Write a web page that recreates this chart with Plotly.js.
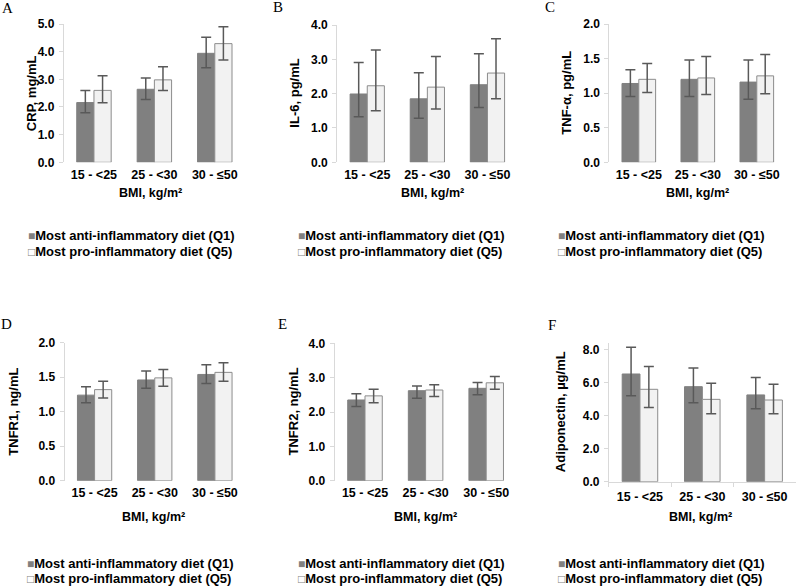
<!DOCTYPE html>
<html>
<head>
<meta charset="utf-8">
<script src="https://cdn.plot.ly/plotly-3.0.1.min.js"></script>
<style>
  html, body { margin: 0; padding: 0; background: #fff; }
  #chart { width: 797px; height: 587px; }
</style>
</head>
<body>
<div id="chart"></div>
<script>
// BMI groups
const bmiGroups = ["15 - <25", "25 - <30", "30 - ≤50"];

// CRP, mg/mL
const crpQ1 = [2.16, 2.64, 3.94];
const crpQ1Lo = [1.79, 2.27, 3.42];
const crpQ1Hi = [2.60, 3.05, 4.52];
const crpQ5 = [2.60, 2.98, 4.29];
const crpQ5Lo = [2.15, 2.60, 3.70];
const crpQ5Hi = [3.13, 3.45, 4.90];

// IL-6, pg/mL
const il6Q1 = [1.99, 1.85, 2.26];
const il6Q1Lo = [1.33, 1.28, 1.60];
const il6Q1Hi = [2.91, 2.61, 3.16];
const il6Q5 = [2.23, 2.19, 2.60];
const il6Q5Lo = [1.50, 1.55, 1.85];
const il6Q5Hi = [3.27, 3.08, 3.60];

// TNF-a, pg/mL
const tnfQ1 = [1.14, 1.20, 1.16];
const tnfQ1Lo = [0.95, 0.95, 0.91];
const tnfQ1Hi = [1.34, 1.48, 1.48];
const tnfQ5 = [1.20, 1.22, 1.25];
const tnfQ5Lo = [1.01, 0.98, 0.99];
const tnfQ5Hi = [1.43, 1.53, 1.56];

// TNFR1, ng/mL
const r1Q1 = [1.24, 1.46, 1.54];
const r1Q1Lo = [1.13, 1.34, 1.41];
const r1Q1Hi = [1.36, 1.59, 1.68];
const r1Q5 = [1.32, 1.49, 1.57];
const r1Q5Lo = [1.20, 1.37, 1.44];
const r1Q5Hi = [1.44, 1.61, 1.71];

// TNFR2, ng/mL
const r2Q1 = [2.35, 2.62, 2.69];
const r2Q1Lo = [2.16, 2.40, 2.50];
const r2Q1Hi = [2.53, 2.76, 2.86];
const r2Q5 = [2.47, 2.64, 2.85];
const r2Q5Lo = [2.27, 2.45, 2.66];
const r2Q5Hi = [2.66, 2.79, 3.03];

// Adiponectin, ug/mL
const adipoQ1 = [6.54, 5.77, 5.27];
const adipoQ1Lo = [5.22, 4.80, 4.43];
const adipoQ1Hi = [8.16, 6.91, 6.32];
const adipoQ5 = [5.61, 5.00, 4.96];
const adipoQ5Lo = [4.50, 4.13, 4.13];
const adipoQ5Hi = [6.99, 5.98, 5.92];

const q1Name = "Most anti-inflammatory diet (Q1)";
const q5Name = "Most pro-inflammatory diet (Q5)";

const W = 797, H = 587;
const px = v => v / W;
const py = v => 1 - v / H;

// panel boxes in pixels: x0, x1, yTop, yBottom
const panels = [
  {letter:"A", ytitle:"CRP, mg/mL", q1:[crpQ1,crpQ1Lo,crpQ1Hi], q5:[crpQ5,crpQ5Lo,crpQ5Hi],
   range:[0,5], dtick:1, box:[63.75,245,24,162.3], lx:8, ly:8, ytx:31, xtx:150, xty:192.7, legx:26, legy:[235,251.7]},
  {letter:"B", ytitle:"IL-6, pg/mL", q1:[il6Q1,il6Q1Lo,il6Q1Hi], q5:[il6Q5,il6Q5Lo,il6Q5Hi],
   range:[0,4], dtick:1, box:[337.2,517.5,25,162.3], lx:277.5, ly:7, ytx:295, xtx:432, xty:193, legx:296, legy:[235,251.7]},
  {letter:"C", ytitle:"TNF-α, pg/mL", q1:[tnfQ1,tnfQ1Lo,tnfQ1Hi], q5:[tnfQ5,tnfQ5Lo,tnfQ5Hi],
   range:[0,2], dtick:0.5, box:[609.3,786.3,24,162.3], lx:549.5, ly:7, ytx:566.5, xtx:697.5, xty:193, legx:556, legy:[235,251.7]},
  {letter:"D", ytitle:"TNFR1, ng/mL", q1:[r1Q1,r1Q1Lo,r1Q1Hi], q5:[r1Q5,r1Q5Lo,r1Q5Hi],
   range:[0,2], dtick:0.5, box:[64.5,245,342.7,480.7], lx:6, ly:324, ytx:14, xtx:153, xty:516.5, legx:25, legy:[563.3,578.3]},
  {letter:"E", ytitle:"TNFR2, ng/mL", q1:[r2Q1,r2Q1Lo,r2Q1Hi], q5:[r2Q5,r2Q5Lo,r2Q5Hi],
   range:[0,4], dtick:1, box:[334.7,516.5,343.3,480.7], lx:282, ly:324, ytx:292.5, xtx:425, xty:516.5, legx:296, legy:[563.3,578.3]},
  {letter:"F", ytitle:"Adiponectin, µg/mL", q1:[adipoQ1,adipoQ1Lo,adipoQ1Hi], q5:[adipoQ5,adipoQ5Lo,adipoQ5Hi],
   range:[0,8.44], dtick:2, box:[608.8,795.8,342.7,481.7], lx:552, ly:325, ytx:560, xtx:700, xty:517, legx:556, legy:[563.3,578.3], xline:true}
];

const sans = "Liberation Sans, Arial, sans-serif";
const errStyle = {type:"data", symmetric:false, color:"#595959", thickness:1.5, width:5};

let traces = [];
let layout = {
  width: W, height: H,
  margin: {l:0, r:0, t:0, b:0},
  paper_bgcolor: "#fff", plot_bgcolor: "rgba(0,0,0,0)",
  barmode: "group", bargap: 0.43, bargroupgap: 0,
  showlegend: false,
  font: {family:sans, color:"#000"},
  annotations: []
};

panels.forEach((p, i) => {
  const n = i === 0 ? "" : String(i + 1);
  const [m1, lo1, hi1] = p.q1;
  const [m5, lo5, hi5] = p.q5;
  traces.push({
    type:"bar", name:q1Name, x:bmiGroups, y:m1, xaxis:"x"+n, yaxis:"y"+n,
    marker:{color:"#808080", line:{color:"#808080", width:1}},
    error_y: Object.assign({}, errStyle, {array: hi1.map((v,k)=>v-m1[k]), arrayminus: m1.map((v,k)=>v-lo1[k])})
  });
  traces.push({
    type:"bar", name:q5Name, x:bmiGroups, y:m5, xaxis:"x"+n, yaxis:"y"+n,
    marker:{color:"#f2f2f2", line:{color:"#8c8c8c", width:1}},
    error_y: Object.assign({}, errStyle, {array: hi5.map((v,k)=>v-m5[k]), arrayminus: m5.map((v,k)=>v-lo5[k])})
  });

  const [x0, x1, yt, yb] = p.box;
  layout["xaxis"+n] = {
    domain:[px(x0), px(x1)], anchor:"y"+n, type:"category",
    showgrid:false, zeroline:false,
    showline: !!p.xline, linecolor:"#d9d9d9", linewidth:1,
    ticks:"outside", tickson:"boundaries", ticklen:4, ticklabelstandoff:3,
    tickcolor: p.xline ? "#d9d9d9" : "rgba(0,0,0,0)",
    tickfont:{family:sans, size:12.5, color:"#000", weight:"bold"}
  };
  layout["yaxis"+n] = {
    domain:[py(yb), py(yt)], anchor:"x"+n, range:p.range,
    dtick:p.dtick, tick0:0, tickformat:".1f",
    showgrid:false, zeroline:false,
    showline:true, linecolor:"#d9d9d9", linewidth:1,
    ticks:"outside", ticklen:4, tickcolor:"#d9d9d9", ticklabelstandoff:2,
    tickfont:{family:sans, size:12, color:"#000", weight:"bold"}
  };

  // panel letter
  layout.annotations.push({
    text:p.letter, xref:"paper", yref:"paper", x:px(p.lx), y:py(p.ly),
    xanchor:"center", yanchor:"middle", showarrow:false,
    font:{family:"Liberation Serif, Times New Roman, serif", size:15, color:"#000", weight:"normal"}
  });
  // y title
  layout.annotations.push({
    text:p.ytitle, xref:"paper", yref:"paper", x:px(p.ytx), y:py((yt+yb)/2),
    xanchor:"center", yanchor:"middle", textangle:-90, showarrow:false,
    font:{family:sans, size:13, color:"#000", weight:"bold"}
  });
  // x title
  layout.annotations.push({
    text:"BMI, kg/m²", xref:"paper", yref:"paper", x:px(p.xtx), y:py(p.xty),
    xanchor:"center", yanchor:"middle", showarrow:false,
    font:{family:sans, size:12.5, color:"#000", weight:"bold"}
  });
  // legend entries
  layout.annotations.push({
    text:'<span style="color:#808080;font-size:12px">■</span>' + q1Name,
    xref:"paper", yref:"paper", x:px(p.legx), y:py(p.legy[0]),
    xanchor:"left", yanchor:"middle", showarrow:false,
    font:{family:sans, size:13, color:"#000", weight:"bold"}
  });
  layout.annotations.push({
    text:'<span style="color:#808080;font-size:12px">□</span>' + q5Name,
    xref:"paper", yref:"paper", x:px(p.legx), y:py(p.legy[1]),
    xanchor:"left", yanchor:"middle", showarrow:false,
    font:{family:sans, size:13, color:"#000", weight:"bold"}
  });
});

Plotly.newPlot("chart", traces, layout, {staticPlot:true, displayModeBar:false});
</script>
</body>
</html>
